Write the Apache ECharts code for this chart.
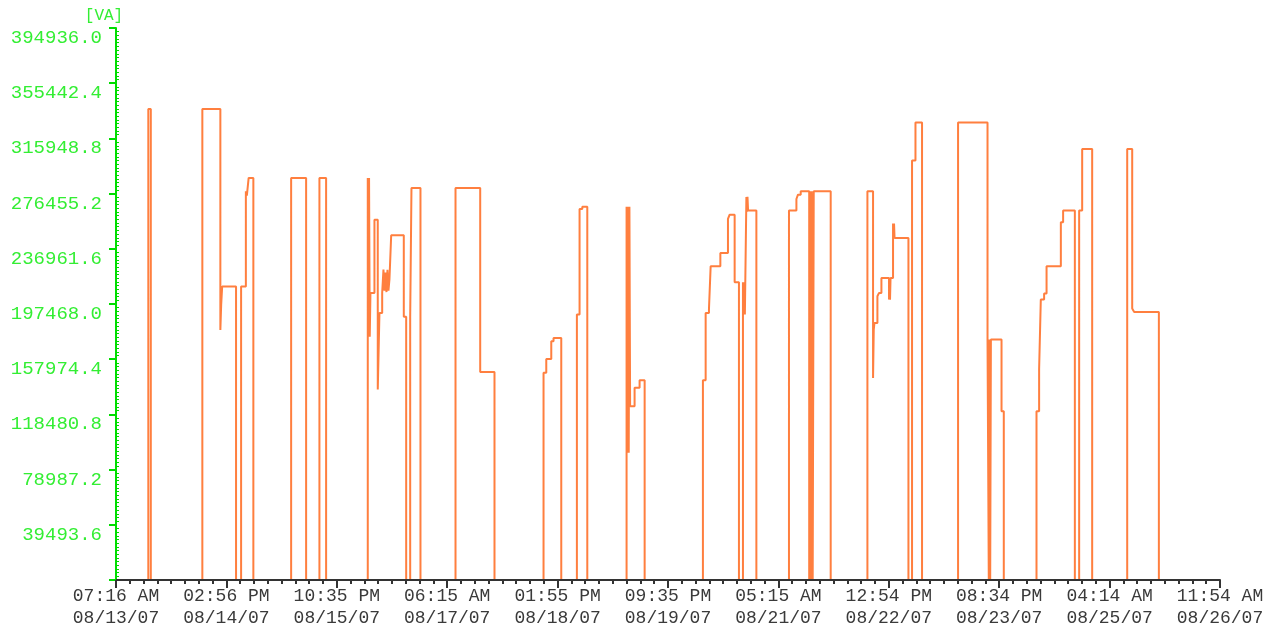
<!DOCTYPE html>
<html>
<head>
<meta charset="utf-8">
<style>
  html, body { margin: 0; padding: 0; background: #ffffff; }
  #chart { width: 1282px; height: 631px; }
</style>
<script src="https://cdn.jsdelivr.net/npm/echarts@6/dist/echarts.min.js"></script>
</head>
<body>
<div id="chart"></div>
<script>
// x in minutes since 07:16 AM 08/13/07; tick every 1900 min (31h40m)
const xStep = 1900;
const xMax = 19000;
const xLabels = [
  '07:16 AM\n08/13/07', '02:56 PM\n08/14/07', '10:35 PM\n08/15/07', '06:15 AM\n08/17/07',
  '01:55 PM\n08/18/07', '09:35 PM\n08/19/07', '05:15 AM\n08/21/07', '12:54 PM\n08/22/07',
  '08:34 PM\n08/23/07', '04:14 AM\n08/25/07', '11:54 AM\n08/26/07'
];
const yStep = 39493.6;
const yMax = 394936;
const yLabels = ['', '39493.6', '78987.2', '118480.8', '157974.4', '197468.0',
  '236961.6', '276455.2', '315948.8', '355442.4', '394936.0'];

// step series: each value holds from its time until the next time
const times = [
  0, 556, 599,
  1486, 1796, 1810, 1827, 2066,
  2153, 2235, 2252, 2283, 2364,
  3014, 3272,
  3501, 3616,
  4333, 4345, 4355, 4367, 4379, 4448, 4505, 4534, 4581, 4603, 4620, 4637, 4655, 4672, 4689, 4706, 4736, 4953, 4994,
  5063, 5085, 5240,
  5843, 6268, 6514,
  7358, 7405, 7491, 7530, 7663,
  7932, 7978, 8025, 8111,
  8787, 8799, 8811, 8824, 8836, 8848, 8925, 9011, 9098,
  10101, 10148, 10205, 10234, 10401, 10532, 10561, 10647, 10721,
  10790, 10802, 10813, 10823, 10849, 10859, 10868, 10878, 11021,
  11582, 11710, 11737, 11784, 11930, 11944, 11959, 11973, 11990, 12008, 12300,
  12932, 13029, 13041, 13053, 13104, 13132, 13173, 13304, 13313, 13321, 13330, 13373, 13382, 13390, 13399, 13638,
  13700, 13759, 13872,
  14492, 14999, 15021, 15033, 15045, 15057, 15240, 15279,
  15842, 15887, 15916, 15973, 16015, 16261, 16300, 16502,
  16576, 16628, 16800,
  17403, 17489, 17523, 17948,
  19000
];
const values = [
  0, 337000, 0,
  337000, 178900, 196800, 209900, 0,
  209900, 278100, 275000, 287650, 0,
  287650, 0,
  287650, 0,
  287650, 175000, 287650, 174000, 205400, 257800, 136250, 191100, 205400, 222100, 207000, 220000, 206000, 222000, 207000, 215000, 246600, 188400, 0,
  188400, 280500, 0,
  280500, 148900, 0,
  148200, 158200, 170800, 173200, 0,
  189900, 265500, 267100, 0,
  267100, 91000, 267100, 91000, 267100, 124300, 137500, 142900, 0,
  142900, 191100, 194000, 224400, 234000, 258300, 261400, 213000, 0,
  213000, 189900, 213000, 189900, 274100, 263500, 274100, 264300, 0,
  264300, 272600, 275700, 278100, 0, 278100, 0, 278100, 0, 278100, 0,
  278100, 144600, 179200, 183900, 203000, 205400, 216100, 200600, 216100, 200600, 216100, 255000, 245600, 255000, 244700, 0,
  300200, 327400, 0,
  327400, 172000, 0, 172000, 0, 172000, 120700, 0,
  120700, 151000, 200600, 204900, 224400, 255900, 264300, 0,
  264300, 308400, 0,
  308400, 194200, 191800, 0,
  0
];

const chart = echarts.init(document.getElementById('chart'), null, { renderer: 'canvas' });
const monoFont = '"Liberation Mono", "DejaVu Sans Mono", monospace';
const green = '#00dd00';
const labelGreen = '#33ee33';

chart.setOption({
  animation: false,
  backgroundColor: '#ffffff',
  grid: { left: 116, right: 62, top: 28, bottom: 51 },
  xAxis: {
    type: 'value',
    min: 0,
    max: xMax,
    interval: xStep,
    z: 10,
    axisLine: { show: true, lineStyle: { color: '#333333', width: 2 } },
    axisTick: { show: true, length: 8, lineStyle: { color: '#333333', width: 2 } },
    minorTick: { show: true, splitNumber: 8, length: 4, lineStyle: { color: '#333333', width: 2 } },
    splitLine: { show: false },
    minorSplitLine: { show: false },
    axisLabel: {
      show: true,
      margin: 5,
      color: '#3a3a3a',
      fontFamily: monoFont,
      fontSize: 18,
      lineHeight: 22,
      showMinLabel: true,
      showMaxLabel: true,
      hideOverlap: false,
      formatter: function (v) { return xLabels[Math.round(v / xStep)] || ''; }
    }
  },
  yAxis: [{
    type: 'value',
    min: 0,
    max: yMax,
    interval: yStep,
    z: 10,
    name: '[VA]',
    nameLocation: 'end',
    nameGap: 4,
    nameTextStyle: { color: labelGreen, fontFamily: monoFont, fontSize: 16, padding: [0, 24, 0, 0] },
    axisLine: { show: true, lineStyle: { color: green, width: 2 } },
    axisTick: { show: true, length: 7, lineStyle: { color: green, width: 2 } },
    splitLine: { show: false },
    axisLabel: {
      show: true,
      margin: 14,
      color: labelGreen,
      fontFamily: monoFont,
      fontSize: 19,
      lineHeight: 20,
      verticalAlign: 'top',
      showMinLabel: true,
      showMaxLabel: true,
      formatter: function (v) { return yLabels[Math.round(v / yStep)] || ''; }
    }
  }, {
    type: 'value',
    min: 0,
    max: yMax,
    interval: yStep,
    position: 'left',
    z: 10,
    axisLine: { show: false },
    axisTick: { show: false, inside: true },
    minorTick: { show: true, splitNumber: 15, length: 3, lineStyle: { color: green, width: 1 } },
    splitLine: { show: false },
    minorSplitLine: { show: false },
    axisLabel: { show: false }
  }],
  series: [{
    type: 'line',
    step: 'end',
    xAxisIndex: 0,
    yAxisIndex: 0,
    showSymbol: false,
    symbol: 'none',
    z: 2,
    lineStyle: { color: '#ff7f3f', width: 2 },
    data: times.map(function (t, i) { return [t, values[i]]; })
  }]
});
</script>
</body>
</html>
